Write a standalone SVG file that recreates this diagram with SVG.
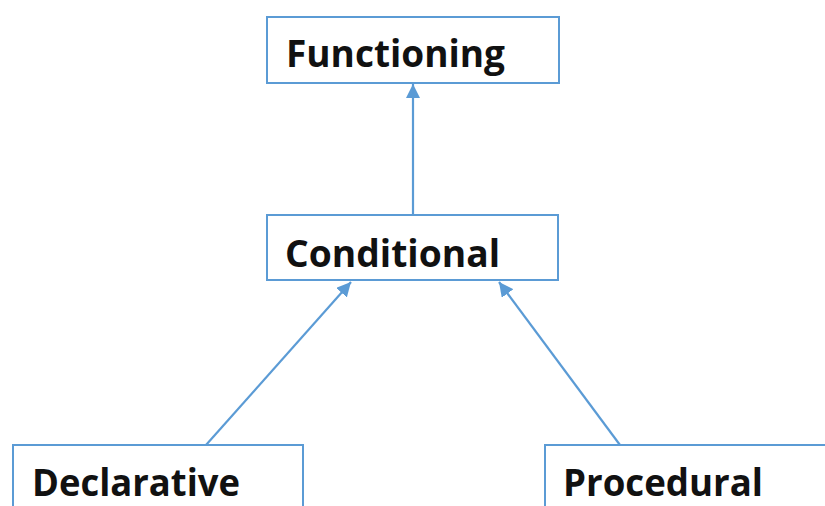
<svg xmlns="http://www.w3.org/2000/svg" width="825" height="506" viewBox="0 0 825 506">
<defs>
<marker id="ah" viewBox="0 0 10 10" refX="10" refY="5" markerWidth="6.5" markerHeight="6.5" orient="auto" markerUnits="strokeWidth">
<path d="M0,0 L10,5 L0,10 z" fill="#5b9bd5"/>
</marker>
</defs>
<style>
.box{fill:#fff;stroke:#5b9bd5;stroke-width:2}
.lbl{font-family:"Open Sans","Liberation Sans",sans-serif;font-weight:bold;font-size:37px;fill:#111}
.edge{stroke:#5b9bd5;stroke-width:2.2;fill:none;marker-end:url(#ah)}
</style>
<rect width="825" height="506" fill="#fff"/>
<g id="connectors">
<line class="edge" x1="413" y1="214" x2="413" y2="84"/>
<line class="edge" x1="206" y1="445" x2="351" y2="282"/>
<line class="edge" x1="620" y1="445" x2="499" y2="282"/>
</g>
<g id="functioning">
<rect class="box" x="267" y="17" width="292" height="66"/>
<text class="lbl" x="286" y="67" textLength="219" lengthAdjust="spacingAndGlyphs">Functioning</text>
</g>
<g id="conditional">
<rect class="box" x="267" y="215" width="291" height="65"/>
<text class="lbl" x="285" y="267" textLength="215" lengthAdjust="spacingAndGlyphs">Conditional</text>
</g>
<g id="declarative">
<path class="box" d="M13,507 L13,445 L303,445 L303,507"/>
<text class="lbl" x="32" y="496" textLength="208" lengthAdjust="spacingAndGlyphs">Declarative</text>
</g>
<g id="procedural">
<path class="box" d="M545,507 L545,445 L826,445"/>
<text class="lbl" x="563" y="496" textLength="200" lengthAdjust="spacingAndGlyphs">Procedural</text>
</g>
</svg>
